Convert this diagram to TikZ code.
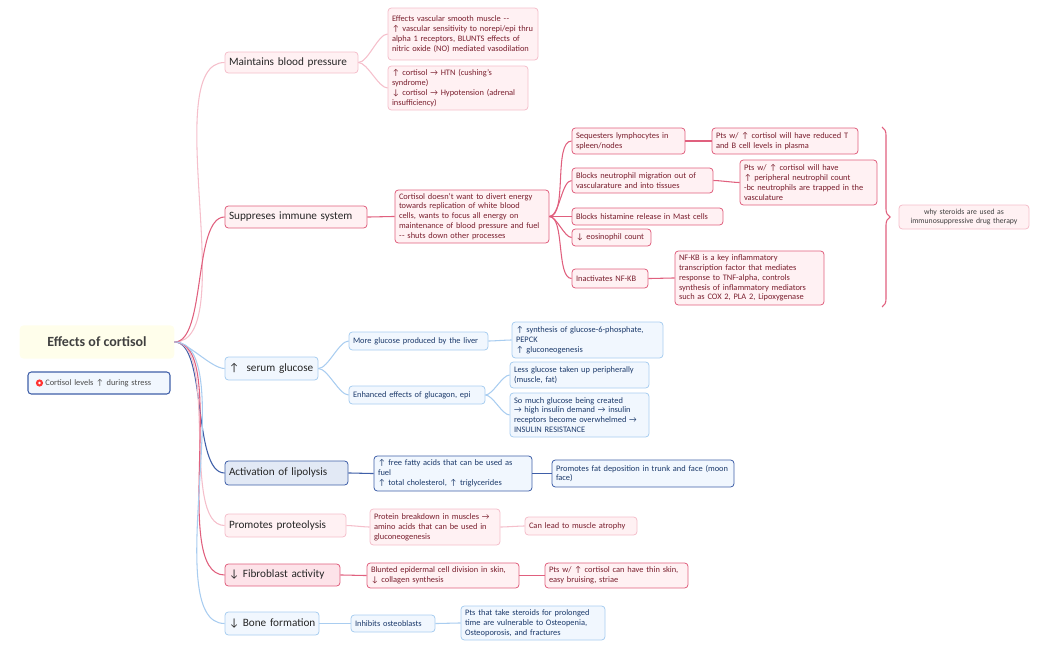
\documentclass[tikz,border=0pt]{standalone}
\usepackage{fontspec}
\setmainfont{Carlito}
\usetikzlibrary{decorations.pathreplacing}
\hyphenpenalty=10000 \exhyphenpenalty=10000
\newcommand\dd{-\kern0.4pt-}
\definecolor{lpB}{HTML}{F5BFCB}\definecolor{lpF}{HTML}{FFF1F3}
\definecolor{pkB}{HTML}{E0607E}\definecolor{pkF}{HTML}{FDE3E9}
\definecolor{rT}{HTML}{7A1F2E}
\definecolor{lbB}{HTML}{A9CDF0}\definecolor{lbF}{HTML}{F1F7FE}
\definecolor{dbB}{HTML}{3F5FA8}\definecolor{dbF}{HTML}{E2E9F5}
\definecolor{bT}{HTML}{1C3A6B}
\tikzset{
 bxs/.style={draw,rounded corners=2.5pt,line width=0.6pt,inner sep=2pt,align=left,font=\fontsize{6.3}{7.4}\selectfont},
 big/.style={font=\fontsize{8.4}{9}\selectfont,text=black!85},
 lp/.style={bxs,draw=lpB,fill=lpF,text=rT},
 pk/.style={bxs,draw=pkB,fill=lpF,text=rT},
 pkf/.style={bxs,draw=pkB,fill=pkF,text=rT},
 lb/.style={bxs,draw=lbB,fill=lbF,text=bT},
 db/.style={bxs,draw=dbB,fill=lbF,text=bT},
 dbf/.style={bxs,draw=dbB,fill=dbF,text=bT},
 cn/.style={line width=0.8pt,out=0,in=180,looseness=0.6},
}
\newcommand\bx[7]{%
 \pgfmathsetmacro\bw{(#4-#2)*0.75}\pgfmathsetmacro\bh{(#5-#3)*0.75}\pgfmathsetmacro\tw{(#4-#2-8)*0.75}%
 \node[#6,minimum width=\bw pt,minimum height=\bh pt,text width=\tw pt] (#1) at ({(#2+#4)/2},{(#3+#5)/2}) {#7};}
\begin{document}
\begin{tikzpicture}[x=0.75pt,y=-0.75pt]
\useasboundingbox (0,0) rectangle (1050,650);
% root
\node[draw=none,fill=yellow!8,rounded corners=3pt,minimum width=116pt,minimum height=25pt,font=\fontsize{10.5}{12}\selectfont\bfseries,text=black!75] (root) at (97,342) {Effects of cortisol};
\bx{note}{28}{372}{170}{394}{db,line width=0.8pt,text=black!70}{\hspace{10pt}Cortisol levels ↑ during stress}
\fill[red!80] ([xshift=9pt]note.west) circle (2.7pt);
\fill[white] ([xshift=9pt]note.west) circle (1pt);
% branches
\bx{bp}{225}{52}{358}{73}{lp,big}{Maintains blood pressure}
\bx{im}{225}{206}{367}{228}{pk,big}{Suppreses immune system}
\bx{gl}{225}{357}{318}{380}{lb,big}{↑\ \ serum glucose}
\bx{li}{225}{461}{348}{485}{dbf,big}{Activation of lipolysis}
\bx{pr}{225}{514}{346}{537}{lp,big}{Promotes proteolysis}
\bx{fi}{225}{564}{340}{586}{pkf,big}{↓ Fibroblast activity}
\bx{bo}{225}{612}{319}{635}{lb,big}{\mbox{↓ Bone formation}}
\draw[cn,lpB] (root.east) to (bp.west);
\draw[cn,pkB] (root.east) to (im.west);
\draw[cn,lbB] (root.east) to (gl.west);
\draw[cn,dbB] (root.east) to (li.west);
\draw[cn,lpB] (root.east) to (pr.west);
\draw[cn,pkB] (root.east) to (fi.west);
\draw[cn,lbB] (root.east) to (bo.west);
% blood pressure
\bx{bp1}{388}{8}{538}{60}{lp}{Effects vascular smooth muscle \dd\\↑ vascular sensitivity to norepi/epi thru alpha 1 receptors, BLUNTS effects of nitric oxide (NO) mediated vasodilation}
\bx{bp2}{388}{66}{528}{110}{lp}{↑ cortisol → HTN (cushing's syndrome)\\↓ cortisol → Hypotension (adrenal insufficiency)}
\foreach \c in {bp1,bp2} \draw[cn,lpB] (bp.east) to (\c.west);
% immune
\bx{im0}{395}{190}{549}{243}{pk}{Cortisol doesn't want to divert energy towards replication of white blood cells, wants to focus all energy on maintenance of blood pressure and fuel \dd{} shuts down other processes}
\draw[cn,pkB] (im.east) to (im0.west);
\bx{i1}{572}{128}{685}{154}{pk}{Sequesters lymphocytes in spleen/nodes}
\bx{i1b}{712}{128}{858}{154}{pk}{Pts w/ ↑ cortisol will have reduced T and B cell levels in plasma}
\bx{i2}{572}{168}{713}{193}{pk}{Blocks neutrophil migration out of vascularature and into tissues}
\bx{i2b}{740}{160}{877}{205}{pk}{Pts w/ ↑ cortisol will have\\↑ peripheral neutrophil count\\-bc neutrophils are trapped in the vasculature}
\bx{i3}{572}{208}{723}{225}{pk}{Blocks histamine release in Mast cells}
\bx{i4}{572}{229}{651}{246}{pk}{↓ eosinophil count}
\bx{i5}{572}{269}{648}{288}{pk}{Inactivates NF-KB}
\bx{i5b}{675}{251}{824}{305}{pk}{NF-KB is a key inflammatory transcription factor that mediates response to TNF-alpha, controls synthesis of inflammatory mediators such as COX 2, PLA 2, Lipoxygenase}
\foreach \c in {i1,i2,i3,i4,i5} \draw[cn,pkB] (im0.east) to (\c.west);
\draw[cn,pkB] (i1.east) to (i1b.west);
\draw[cn,pkB] (i2.east) to (i2b.west);
\draw[cn,pkB] (i5.east) to (i5b.west);
\coordinate (bt) at (882,127); \coordinate (bb) at (882,307);
\draw[pkB,line width=0.8pt,decorate,decoration={brace,amplitude=6pt}] (bt) -- (bb);
\bx{why}{899}{205}{1029}{229}{lp,text=black!75,align=center,font=\fontsize{5.8}{6.8}\selectfont}{why steroids are used as immunosuppressive drug therapy}
% glucose
\bx{g1}{349}{332}{488}{350}{lb}{More glucose produced by the liver}
\bx{g1b}{512}{322}{663}{358}{lb}{↑ synthesis of glucose-6-phosphate, PEPCK\\↑ gluconeogenesis}
\bx{g2}{349}{386}{485}{404}{lb}{Enhanced effects of glucagon, epi}
\bx{g2a}{510}{362}{649}{388}{lb}{Less glucose taken up peripherally (muscle, fat)}
\bx{g2b}{510}{393}{649}{437}{lb}{So much glucose being created → high insulin demand → insulin receptors become overwhelmed → INSULIN RESISTANCE}
\draw[cn,lbB] (gl.east) to (g1.west);
\draw[cn,lbB] (gl.east) to (g2.west);
\draw[cn,lbB] (g1.east) to (g1b.west);
\draw[cn,lbB] (g2.east) to (g2a.west);
\draw[cn,lbB] (g2.east) to (g2b.west);
% lipolysis
\bx{l1}{374}{456}{532}{491}{db}{↑ free fatty acids that can be used as fuel\\↑ total cholesterol, ↑ triglycerides}
\bx{l2}{552}{460}{734}{487}{db}{Promotes fat deposition in trunk and face (moon face)}
\draw[cn,dbB] (li.east) to (l1.west);
\draw[cn,dbB] (l1.east) to (l2.west);
% proteolysis
\bx{p1}{370}{509}{500}{545}{lp}{Protein breakdown in muscles → amino acids that can be used in gluconeogenesis}
\bx{p2}{525}{517}{637}{535}{lp}{Can lead to muscle atrophy}
\draw[cn,lpB] (pr.east) to (p1.west);
\draw[cn,lpB] (p1.east) to (p2.west);
% fibroblast
\bx{f1}{367}{563}{519}{588}{pk}{Blunted epidermal cell division in skin, ↓ collagen synthesis}
\bx{f2}{545}{563}{688}{588}{pk}{Pts w/ ↑ cortisol can have thin skin, easy bruising, striae}
\draw[cn,pkB] (fi.east) to (f1.west);
\draw[cn,pkB] (f1.east) to (f2.west);
% bone
\bx{b1}{351}{615}{435}{632}{lb}{Inhibits osteoblasts}
\bx{b2}{461}{606}{605}{640}{lb}{Pts that take steroids for prolonged time are vulnerable to Osteopenia, Osteoporosis, and fractures}
\draw[cn,lbB] (bo.east) to (b1.west);
\draw[cn,lbB] (b1.east) to (b2.west);
\end{tikzpicture}
\end{document}
